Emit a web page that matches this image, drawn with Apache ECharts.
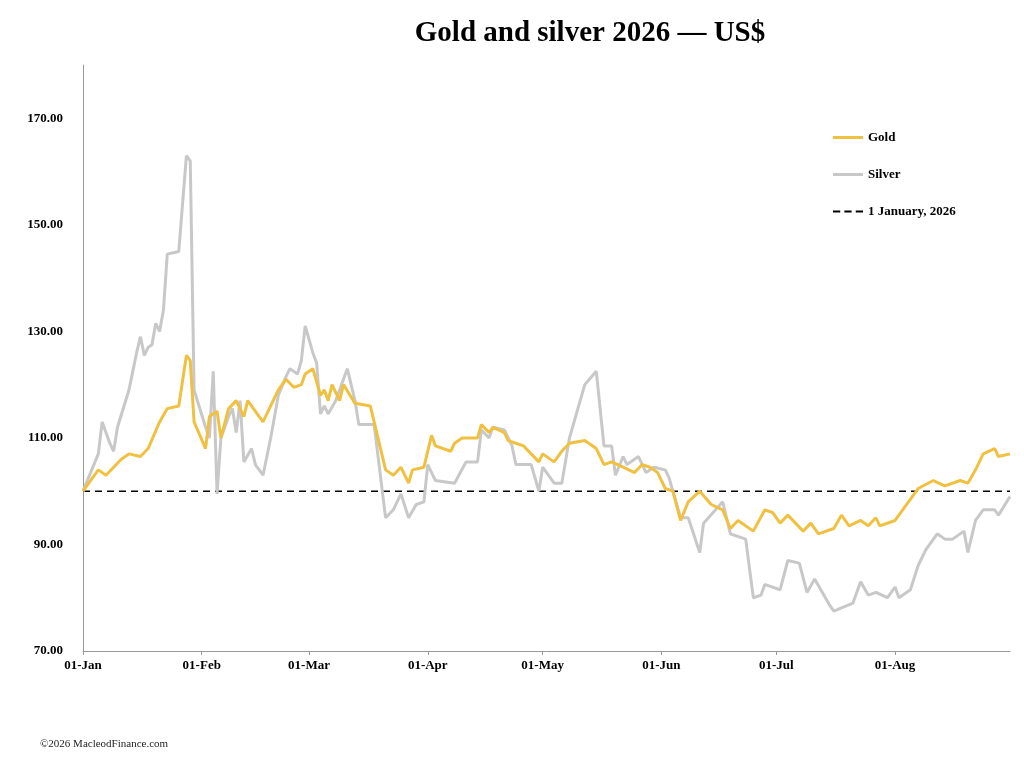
<!DOCTYPE html>
<html><head><meta charset="utf-8">
<script src="https://cdn.jsdelivr.net/npm/echarts@6/dist/echarts.min.js"></script>
<style>html,body{margin:0;padding:0;background:#fff}#c{width:1024px;height:760px}</style>
</head><body><div id="c"></div>
<script>
// Day index 0 = 01-Jan-2026
const monthStarts = [0,31,59,90,120,151,181,212];
const monthLabels = ['01-Jan','01-Feb','01-Mar','01-Apr','01-May','01-Jun','01-Jul','01-Aug'];
const totalDays = 243;
const yTicks = [70,90,110,130,150,170];

const goldDays = [0,4,6,10,12,15,17,20,22,25,27,28,29,32,33,35,36,38,40,42,43,45,47,49,51,53,55,57,58,60,62,63,64,65,67,68,71,75,79,81,83,85,86,89,91,92,96,97,99,103,104,106,107,110,111,113,115,119,120,123,125,127,131,134,136,138,141,144,146,148,150,152,154,156,158,161,164,167,169,171,175,178,180,182,184,188,190,192,196,198,200,203,205,207,208,212,218,222,225,229,231,233,235,238,239,242];
const goldVals = [100,104,103,106,107,106.5,108,113,115.5,116,125.5,124.5,113,108,114,115,110,115.5,117,114,117,115,113,116,119,121,119.5,120,122,123,118,119,117,120,117,120,116.5,116,104,103,104.5,101.5,104,104.5,110.5,108.5,107.5,109,110,110,112.5,111,112,111,109.5,109,108.5,105.5,107,105.5,107.5,109,109.5,108,105,105.5,104.5,103.5,105,104.5,103.5,100.5,100,94.5,98,100,97.5,96.5,93,94.5,92.5,96.5,96,94,95.5,92.5,94,92,93,95.5,93.5,94.5,93.5,95,93.5,94.5,100.5,102,101,102,101.5,104,107,108,106.5,107];

const silverDays = [0,4,5,7,8,9,12,14,15,16,17,18,19,20,21,22,25,27,28,29,32,33,34,35,36,38,39,40,41,42,44,45,47,49,51,53,54,56,57,58,60,61,62,63,64,66,68,69,71,72,75,76,79,81,83,85,87,89,90,92,97,100,103,104,106,107,110,112,113,117,119,120,123,125,127,131,134,136,138,139,141,142,145,147,149,152,153,156,158,161,162,167,169,173,175,177,178,180,182,184,187,189,191,195,196,201,203,205,207,210,212,213,216,218,220,223,225,227,230,231,233,235,238,239,242];
const silverVals = [100,107,113,109,107.5,112,119,126,129,125.5,127,127.5,131.5,130,134,144.5,145,163,162,119,112,110,122.5,99.5,110,114,115.5,111,117,105.5,108,105,103,110,118,121.5,123,122,124.5,131,126,124,114.5,116,114.5,117,121,123,117,112.5,112.5,112.5,95,96.5,99.5,95,97.5,98,105,102,101.5,105.5,105.5,111.5,110,112,111.5,108.5,105,105,100,104.5,101.5,101.5,110,120,122.5,108.5,108.5,103,106.5,105,106.5,103.5,104.5,104,102.5,95,95,88.5,94,98,92,91,80,80.5,82.5,82,81.5,87,86.5,81,83.5,78.5,77.5,79,83,80.5,81,80,82,80,81.5,86,89,92,91,91,92.5,88.5,94.5,96.5,96.5,95.5,99];

const baseDays = [0,242];
const baseVals = [100,100];

const cats = [];
for (let i = 0; i < totalDays; i++) {
  const m = monthStarts.indexOf(i);
  cats.push(m >= 0 ? monthLabels[m] : 'd' + i);
}
const pairs = (d, v) => d.map((x, i) => [x, v[i]]);
const isStart = (i) => monthStarts.indexOf(i) >= 0;
const serif = '"Liberation Serif", "DejaVu Serif", serif';

const chart = echarts.init(document.getElementById('c'));
chart.setOption({
  animation: false,
  title: { text: 'Gold and silver 2026 — US$', left: 585, top: 14, textAlign: 'center',
    textStyle: { fontFamily: serif, fontSize: 29, fontWeight: 'bold', color: '#000' } },
  graphic: [{ type: 'text', left: 40, top: 739,
    style: { text: '©2026 MacleodFinance.com', font: '11px ' + serif, fill: '#222' } }],
  legend: { orient: 'vertical', left: 828, top: 126, itemGap: 24, itemWidth: 30, itemHeight: 10,
    textStyle: { fontFamily: serif, fontSize: 13, fontWeight: 'bold', color: '#000' },
    data: [{ name: 'Gold', icon: 'path://M0,4L30,4L30,7L0,7Z' },
           { name: 'Silver', icon: 'path://M0,4L30,4L30,7L0,7Z' },
           { name: '1 January, 2026', icon: 'path://M0,4L7,4L7,6L0,6ZM11,4L18,4L18,6L11,6ZM22,4L29,4L29,6L22,6Z' }] },
  grid: { left: 83, right: 14, top: 65, bottom: 109 },
  xAxis: { type: 'category', data: cats, boundaryGap: false,
    axisLine: { lineStyle: { color: '#999' } },
    axisTick: { interval: (i) => isStart(i), length: 4, lineStyle: { color: '#999' } },
    axisLabel: { interval: (i) => isStart(i), fontFamily: serif, fontSize: 13, fontWeight: 'bold', color: '#000', margin: 8 } },
  yAxis: { type: 'value', min: 70, max: 180, interval: 20,
    axisLine: { show: true, lineStyle: { color: '#999' } }, axisTick: { show: false },
    splitLine: { show: false },
    axisLabel: { showMaxLabel: false, formatter: (v) => yTicks.indexOf(v) >= 0 ? v.toFixed(2) : '',
      fontFamily: serif, fontSize: 13, fontWeight: 'bold', color: '#000', margin: 20 } },
  series: [
    { name: '1 January, 2026', type: 'line', data: pairs(baseDays, baseVals), symbol: 'none',
      lineStyle: { color: '#000', width: 1.5, type: [7, 5] }, itemStyle: { color: '#000' }, z: 1 },
    { name: 'Silver', type: 'line', data: pairs(silverDays, silverVals), symbol: 'none',
      lineStyle: { color: '#c8c8c8', width: 3 }, itemStyle: { color: '#c8c8c8' }, z: 2 },
    { name: 'Gold', type: 'line', data: pairs(goldDays, goldVals), symbol: 'none',
      lineStyle: { color: '#f0c040', width: 3 }, itemStyle: { color: '#f0c040' }, z: 3 }
  ]
});
</script></body></html>
